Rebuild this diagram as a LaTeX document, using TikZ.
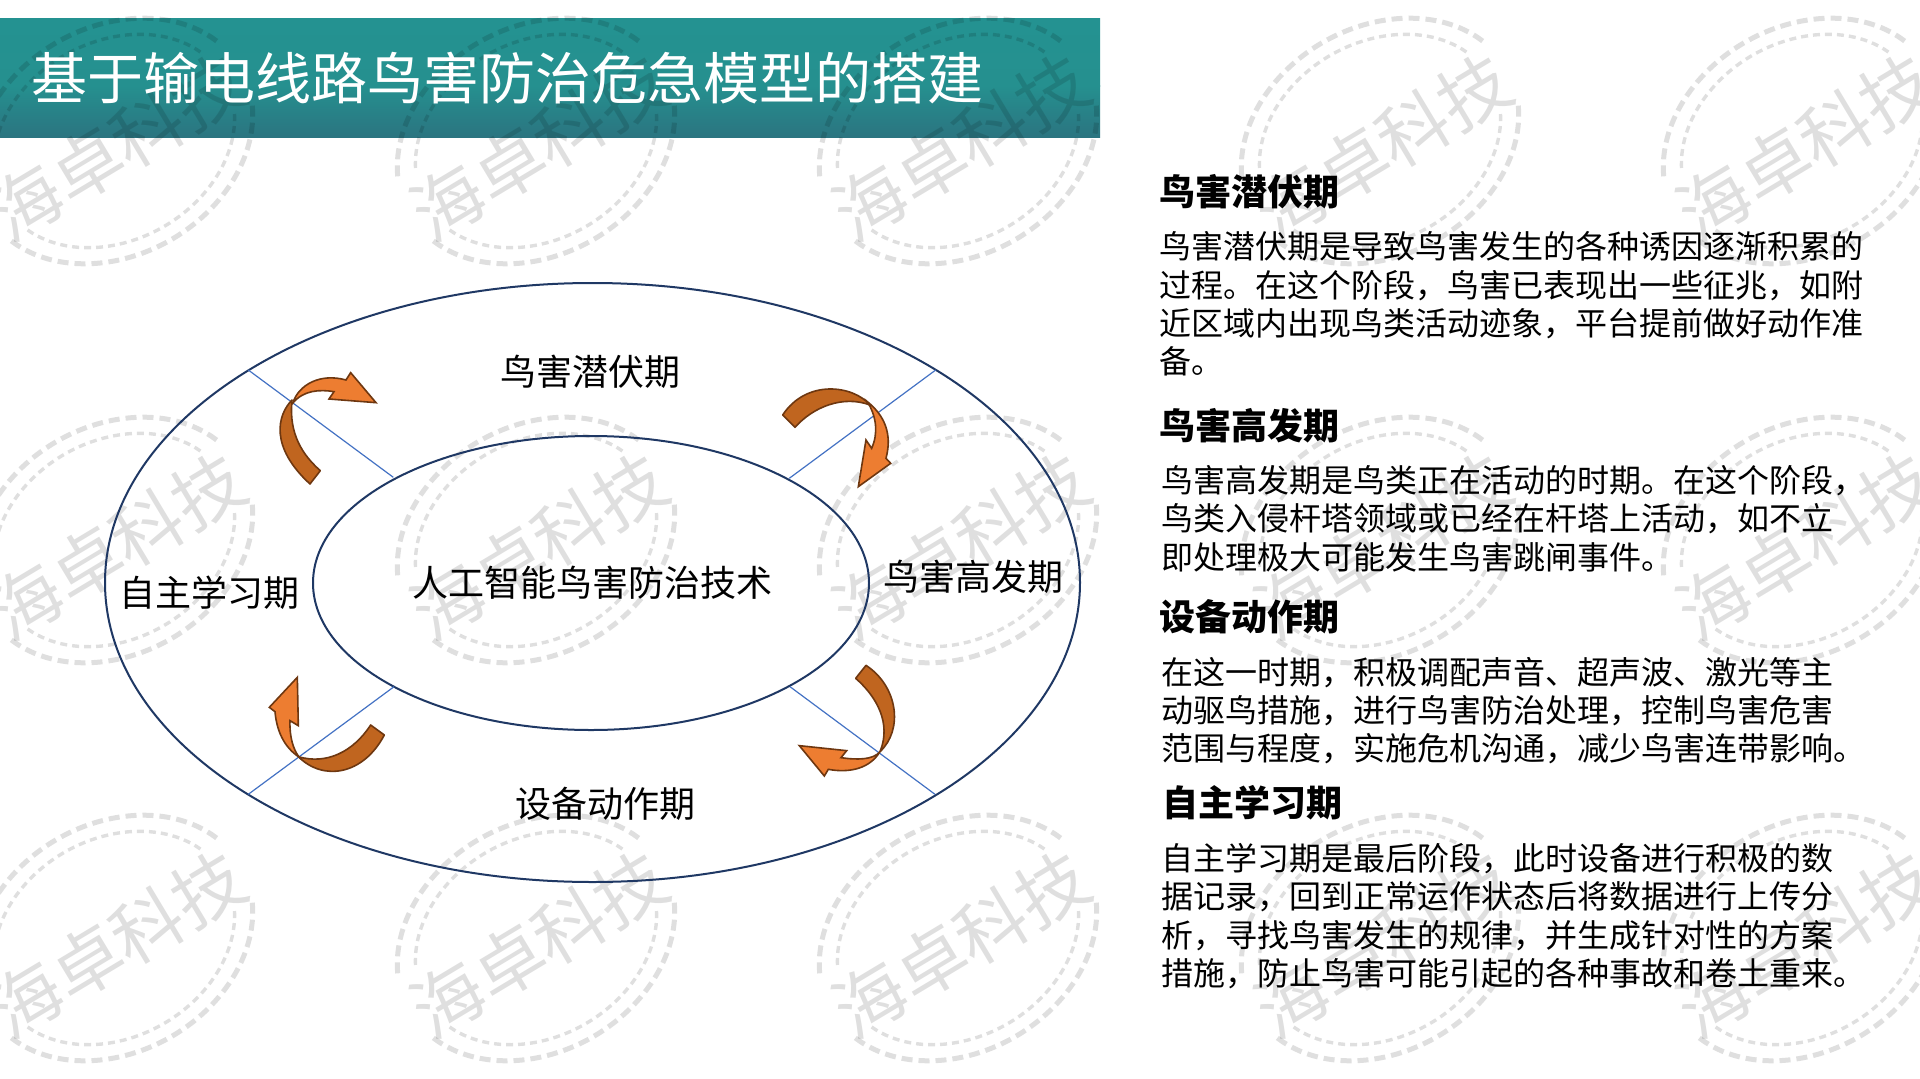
\documentclass[tikz,border=0pt]{standalone}
\usepackage{fontspec}
\setmainfont{Noto Sans CJK SC}
\definecolor{bantop}{HTML}{249291}
\definecolor{banmid}{HTML}{25908F}
\definecolor{banbot}{HTML}{2B7480}
\definecolor{navy}{HTML}{1F3864}
\definecolor{bline}{HTML}{4472C4}
\definecolor{olight}{HTML}{ED7D31}
\definecolor{odark}{HTML}{C0651F}
\definecolor{oline}{HTML}{6E3710}
\newcommand{\fsz}[1]{\fontsize{#1}{#1}\selectfont}
\tikzset{
  x=1pt,y=-1pt,
  ringline/.style={draw,ellipse,draw=navy,line width=2pt,inner sep=0pt,minimum width=0pt,fill=none},
  sector/.style={draw=bline,line width=1.2pt},
  label/.style={inner sep=0pt,font=\fsz{36}},
  head/.style={inner sep=0pt,anchor=west,font=\fsz{36}\bfseries},
  para/.style={inner sep=0pt,anchor=west,align=left,font=\fontsize{32}{38.3}\selectfont},
  bandpart/.style={fill=odark,draw=oline,line width=1.6pt,line join=round},
  headpart/.style={fill=olight,draw=oline,line width=1.6pt,line join=miter},
  wm/.style={black,opacity=0.125},
}
\usetikzlibrary{shapes.geometric}
\begin{document}
\begin{tikzpicture}
\useasboundingbox (0,0) rectangle (1920,1079);
\clip (0,0) rectangle (1920,1079);
\fill[white] (0,0) rectangle (1920,1079);
% banner
\shade[top color=bantop,bottom color=banmid] (0,18) rectangle (1100,86);
\shade[top color=banmid,bottom color=banbot] (0,85.5) rectangle (1100,137.7);
% watermark
\foreach \cx in {114,536,958,1380,1802}{
 \foreach \cy in {140,539,937}{
  \node[wm,rotate=31,inner sep=0pt,text opacity=0.125,font=\fsz{71}] (wm\cx-\cy) at (\cx+3,\cy+7) {海卓科技};
  \begin{scope}[shift={(\cx,\cy+1)},x=1pt,y=1pt,rotate=30]
   \draw[wm,line width=5pt,dash pattern=on 11pt off 6pt] (18:146 and 114) arc[start angle=18,end angle=162,x radius=146,y radius=114];
   \draw[wm,line width=5pt,dash pattern=on 11pt off 6pt] (198:146 and 114) arc[start angle=198,end angle=341,x radius=146,y radius=114];
   \draw[wm,line width=3.4pt,dash pattern=on 7pt off 5pt] (20:127 and 99) arc[start angle=20,end angle=160,x radius=127,y radius=99];
   \draw[wm,line width=3.4pt,dash pattern=on 7pt off 5pt] (200:127 and 99) arc[start angle=200,end angle=340,x radius=127,y radius=99];
  \end{scope}
 }
}
% title
\node[inner sep=0pt,anchor=west,text=white,font=\fsz{56}] (title) at (31,78) {基于输电线路鸟害防治危急模型的搭建};
% ellipses
\node[ringline,minimum width=975pt,minimum height=599pt] (outer) at (592.5,582.5) {};
\node[ringline,minimum width=556pt,minimum height=294pt] (inner) at (591,583) {};
% sector lines
\coordinate (a1) at (248.3,370); \coordinate (a2) at (393.3,477.3);
\coordinate (b1) at (935.7,370); \coordinate (b2) at (789.3,478.3);
\coordinate (c1) at (248.3,794.3); \coordinate (c2) at (394,686.7);
\coordinate (d1) at (935,794.3); \coordinate (d2) at (790,686.7);
\draw[sector] (a1) -- (a2);
\draw[sector] (b1) -- (b2);
\draw[sector] (c1) -- (c2);
\draw[sector] (d1) -- (d2);
% arrow 1
\begin{scope}[shift={(230,340)},x=0.3333pt,y=-0.3333pt]
 \path[headpart] (188,190) .. controls (205,135) and (270,98) .. (348,120) -- (362,98) -- (438,188) -- (297,177) -- (312,155) .. controls (270,148) and (220,150) .. (188,190) -- cycle;
 \path[bandpart] (240,432) -- (271,392) .. controls (200,330) and (178,260) .. (186,180) .. controls (142,225) and (118,320) .. (240,432) -- cycle;
\end{scope}
% arrow 2
\begin{scope}[shift={(760,360)},x=0.3333pt,y=-0.3333pt]
 \path[headpart] (322,125) .. controls (372,165) and (398,220) .. (378,295) -- (392,310) -- (295,380) -- (318,240) -- (335,265) .. controls (355,220) and (350,170) .. (322,125) -- cycle;
 \path[bandpart] (68,165) -- (105,202) .. controls (160,140) and (250,105) .. (330,135) .. controls (280,76) and (140,56) .. (68,165) -- cycle;
\end{scope}
% arrow 3
\begin{scope}[shift={(230,660)},x=0.3333pt,y=-0.3333pt]
 \path[headpart] (208,292) .. controls (160,260) and (140,210) .. (135,155) -- (118,142) -- (202,52) -- (205,197) -- (180,182) .. controls (178,230) and (190,270) .. (208,292) -- cycle;
 \path[bandpart] (463,225) -- (422,195) .. controls (370,275) and (290,315) .. (205,290) .. controls (280,365) and (400,345) .. (463,225) -- cycle;
\end{scope}
% arrow 4
\begin{scope}[shift={(760,650)},x=0.3333pt,y=-0.3333pt]
 \path[headpart] (360,305) .. controls (330,355) and (270,370) .. (205,358) -- (193,378) -- (118,287) -- (260,302) -- (243,323) .. controls (290,330) and (340,330) .. (360,305) -- cycle;
 \path[bandpart] (318,46) -- (287,85) .. controls (350,140) and (395,220) .. (360,305) .. controls (430,240) and (415,110) .. (318,46) -- cycle;
\end{scope}
% diagram labels
\node[label] (l1) at (590,372) {鸟害潜伏期};
\node[label] (l2) at (973.5,577) {鸟害高发期};
\node[label] (l3) at (605.5,804) {设备动作期};
\node[label] (l4) at (209,593) {自主学习期};
\node[label] (l0) at (592,583) {人工智能鸟害防治技术};
% right text
\node[head] (h1) at (1159,191.5) {鸟害潜伏期};
\node[para] (p1) at (1159,304) {鸟害潜伏期是导致鸟害发生的各种诱因逐渐积累的\\过程。在这个阶段，鸟害已表现出一些征兆，如附\\近区域内出现鸟类活动迹象，平台提前做好动作准\\备。};
\node[head] (h2) at (1159,425.5) {鸟害高发期};
\node[para] (p2) at (1161,518.5) {鸟害高发期是鸟类正在活动的时期。在这个阶段，\\鸟类入侵杆塔领域或已经在杆塔上活动，如不立\\即处理极大可能发生鸟害跳闸事件。};
\node[head] (h3) at (1159,616.5) {设备动作期};
\node[para] (p3) at (1161,710.5) {在这一时期，积极调配声音、超声波、激光等主\\动驱鸟措施，进行鸟害防治处理，控制鸟害危害\\范围与程度，实施危机沟通，减少鸟害连带影响。};
\node[head] (h4) at (1162,802.5) {自主学习期};
\node[para] (p4) at (1161,916) {自主学习期是最后阶段，此时设备进行积极的数\\据记录，回到正常运作状态后将数据进行上传分\\析，寻找鸟害发生的规律，并生成针对性的方案\\措施，防止鸟害可能引起的各种事故和卷土重来。};
\end{tikzpicture}
\end{document}
